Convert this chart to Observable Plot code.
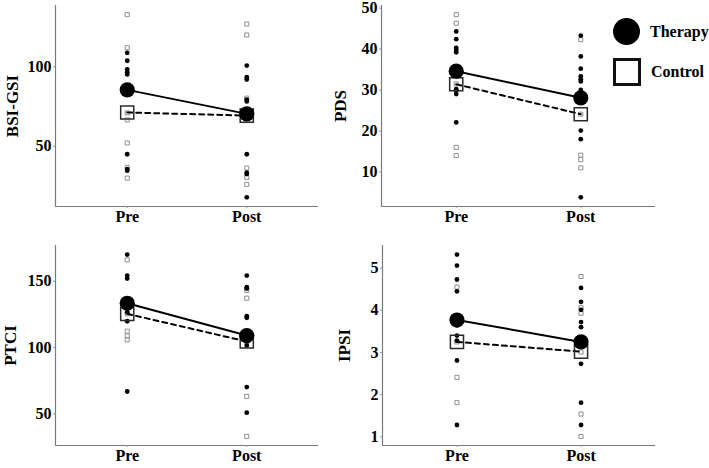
<!DOCTYPE html>
<html>
<head>
<meta charset="utf-8">
<script src="https://cdn.jsdelivr.net/npm/d3@7"></script>
<script src="https://cdn.jsdelivr.net/npm/@observablehq/plot@0.6"></script>
<style>
  html, body { margin: 0; padding: 0; background: #fff; }
  #chart { position: relative; width: 709px; height: 468px; font-family: "Liberation Serif", "Times New Roman", serif; }
  .panel { position: absolute; }
  .panel svg { overflow: visible; }
  .legend { position: absolute; left: 600px; top: 0; width: 109px; height: 100px; }
  .leg-item { position: absolute; left: 0; display: flex; align-items: center; font-weight: bold; font-size: 16px; color: #000; }
  .leg-circle { width: 27px; height: 27px; border-radius: 50%; background: #000; margin-left: 13px; }
  .leg-square { width: 22px; height: 22px; border: 3px solid #111; margin-left: 13px; }
  .leg-item span { margin-left: 10px; }
</style>
</head>
<body>
<div id="chart"></div>
<script>
// ---- Data ----
const timeLabels = ["Pre", "Post"];
const groups = ["Therapy", "Control"];

// BSI-GSI
const bsiTherapyPre  = [108.8, 103.8, 98.3, 96.6, 95.2, 45.0, 35.7, 34.7];
const bsiControlPre  = [132.8, 112.0, 71.0, 66.6, 52.1, 36.8, 30.0];
const bsiTherapyPost = [100.8, 93.5, 92.0, 79.4, 78.2, 70.0, 45.0, 33.4, 32.6, 17.9];
const bsiControlPost = [126.9, 120.0, 80.3, 69.0, 66.2, 36.3, 30.5, 26.1];
const bsiTherapyMean = [85.5, 70.4];
const bsiControlMean = [71.3, 69.3];
const bsiTicks = [50, 100];

// PDS
const pdsTherapyPre  = [44.3, 42.4, 40.3, 39.8, 39.2, 30.2, 29.8, 29.0, 22.1];
const pdsControlPre  = [48.4, 46.3, 31.5, 16.0, 14.0];
const pdsTherapyPost = [43.3, 38.2, 35.2, 33.3, 32.6, 32.1, 30.0, 20.1, 18.0, 3.8];
const pdsControlPost = [42.3, 24.1, 14.1, 13.0, 11.0];
const pdsTherapyMean = [34.6, 28.1];
const pdsControlMean = [31.4, 24.1];
const pdsTicks = [10, 20, 30, 40, 50];

// PTCI
const ptciTherapyPre  = [170.1, 154.3, 152.0, 129.9, 126.6, 119.8, 66.8];
const ptciControlPre  = [166.1, 125.4, 112.3, 108.8, 105.8];
const ptciTherapyPost = [154.3, 145.5, 144.5, 123.6, 122.4, 101.5, 70.1, 50.8];
const ptciControlPost = [143.0, 137.2, 104.0, 63.1, 32.9];
const ptciTherapyMean = [133.4, 109.0];
const ptciControlMean = [125.4, 104.5];
const ptciTicks = [50, 100, 150];

// IPSI
const ipsiTherapyPre  = [5.32, 5.06, 4.73, 4.45, 3.64, 3.40, 3.28, 2.81, 1.28];
const ipsiControlPre  = [4.55, 3.25, 2.41, 1.81];
const ipsiTherapyPost = [4.53, 4.20, 4.01, 3.72, 3.60, 2.73, 1.81, 1.28];
const ipsiControlPost = [4.80, 4.06, 3.93, 3.01, 1.54, 1.01];
const ipsiTherapyMean = [3.77, 3.25];
const ipsiControlMean = [3.25, 3.02];
const ipsiTicks = [1, 2, 3, 4, 5];

// ---- Helpers ----
function rows(pre, post) {
  return pre.map(v => ({time: 1, value: v})).concat(post.map(v => ({time: 2, value: v})));
}
function meanRows(m) { return m.map((v, i) => ({time: i + 1, value: v})); }
function expandDomain(arrs) {
  const all = arrs.flat();
  const lo = d3.min(all), hi = d3.max(all), r = hi - lo;
  return [lo - 0.05 * r, hi + 0.05 * r];
}

function panel(cfg) {
  const therapy = rows(cfg.tPre, cfg.tPost);
  const control = rows(cfg.cPre, cfg.cPost);
  const tMean = meanRows(cfg.tMean);
  const cMean = meanRows(cfg.cMean);
  const yDomain = expandDomain([cfg.tPre, cfg.tPost, cfg.cPre, cfg.cPost]);
  return Plot.plot({
    width: cfg.width,
    height: cfg.height,
    marginLeft: cfg.ml,
    marginRight: cfg.mr,
    marginTop: cfg.mt,
    marginBottom: cfg.mb,
    style: {fontFamily: '"Liberation Serif", "Times New Roman", serif', fontSize: "16px", fontWeight: "bold", color: "#000", background: "transparent"},
    x: {domain: [0.4, 2.6]},
    y: {domain: yDomain},
    marks: [
      Plot.ruleX([0.4], {stroke: "#7a7a7a", strokeWidth: 1.2}),
      Plot.ruleY([yDomain[0]], {stroke: "#7a7a7a", strokeWidth: 1.2}),
      Plot.axisX({ticks: [1, 2], tickFormat: d => timeLabels[d - 1], tickSize: 2, tickPadding: 2, stroke: "#999", fill: "#000", label: null}),
      Plot.axisY({ticks: cfg.ticks, tickFormat: d => String(d), tickSize: 2, tickPadding: 2, stroke: "#999", fill: "#000", label: null}),
      Plot.text([cfg.label], {frameAnchor: "left", rotate: -90, dx: cfg.ldx, textAnchor: "middle", lineAnchor: "middle", fill: "#000", fontSize: 17, fontWeight: "bold"}),
      Plot.dot(control, {x: "time", y: "value", symbol: "square", r: 2.3, stroke: "#8f8f8f", strokeWidth: 1, fill: "none"}),
      Plot.dot(therapy, {x: "time", y: "value", r: 2.4, fill: "#000", stroke: "none"}),
      Plot.line(cMean, {x: "time", y: "value", stroke: "#000", strokeWidth: 2, strokeDasharray: "5,4"}),
      Plot.line(tMean, {x: "time", y: "value", stroke: "#000", strokeWidth: 2}),
      Plot.dot(cMean, {x: "time", y: "value", symbol: "square", r: 7.4, stroke: "#2a2a2a", strokeWidth: 1.5, fill: "none"}),
      Plot.dot(tMean, {x: "time", y: "value", r: 7.6, fill: "#000", stroke: "none"})
    ]
  });
}

const chart = document.getElementById("chart");
function place(el, left, top) {
  const d = document.createElement("div");
  d.className = "panel";
  d.style.left = left + "px";
  d.style.top = top + "px";
  d.appendChild(el);
  chart.appendChild(d);
}

place(panel({width: 320, height: 230, ml: 55, mr: 2, mt: 5, mb: 24, label: "BSI-GSI", ldx: -43, ticks: bsiTicks,
  tPre: bsiTherapyPre, tPost: bsiTherapyPost, cPre: bsiControlPre, cPost: bsiControlPost,
  tMean: bsiTherapyMean, cMean: bsiControlMean}), 0, 0);

place(panel({width: 389, height: 230, ml: 61, mr: 54, mt: 5, mb: 24, label: "PDS", ldx: -41, ticks: pdsTicks,
  tPre: pdsTherapyPre, tPost: pdsTherapyPost, cPre: pdsControlPre, cPost: pdsControlPost,
  tMean: pdsTherapyMean, cMean: pdsControlMean}), 320, 0);

place(panel({width: 320, height: 238, ml: 55, mr: 2, mt: 15, mb: 23, label: "PTCI", ldx: -45, ticks: ptciTicks,
  tPre: ptciTherapyPre, tPost: ptciTherapyPost, cPre: ptciControlPre, cPost: ptciControlPost,
  tMean: ptciTherapyMean, cMean: ptciControlMean}), 0, 230);

place(panel({width: 389, height: 238, ml: 62, mr: 54, mt: 15, mb: 23, label: "IPSI", ldx: -38, ticks: ipsiTicks,
  tPre: ipsiTherapyPre, tPost: ipsiTherapyPost, cPre: ipsiControlPre, cPost: ipsiControlPost,
  tMean: ipsiTherapyMean, cMean: ipsiControlMean}), 320, 230);

// Legend
const legend = document.createElement("div");
legend.className = "legend";
legend.innerHTML =
  '<div class="leg-item" style="top:18px"><div class="leg-circle"></div><span>' + groups[0] + '</span></div>' +
  '<div class="leg-item" style="top:58px"><div class="leg-square"></div><span>' + groups[1] + '</span></div>';
chart.appendChild(legend);
</script>
</body>
</html>
